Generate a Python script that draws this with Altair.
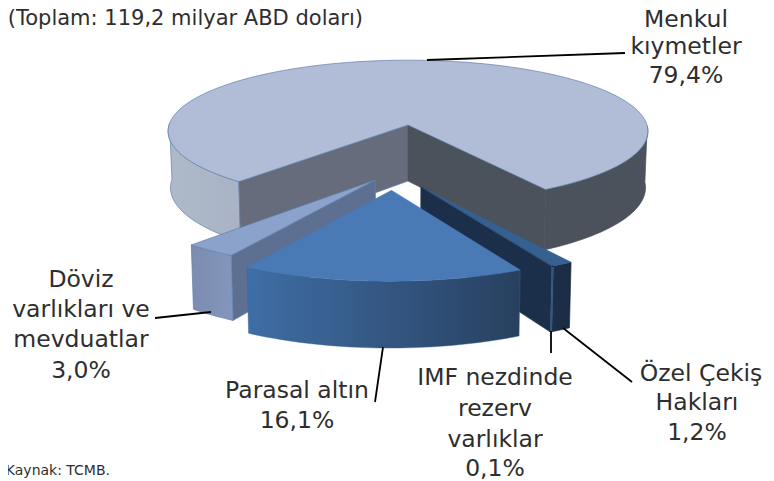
import numpy as np
import pandas as pd
import altair as alt

# --- data
categories = ["Özel Çekiş Hakları", "IMF nezdinde rezerv varlıklar", "Parasal altın", "Döviz varlıkları ve mevduatlar", "Menkul kıymetler"]
shares = [1.2, 0.1, 16.1, 3.0, 79.4]

# --- text
label_lines = [
    ("Menkul", 686, 20), ("kıymetler", 686, 47), ("79,4%", 686, 76),
    ("Döviz", 81, 280), ("varlıkları ve", 81, 310), ("mevduatlar", 81, 340), ("3,0%", 81, 371),
    ("Parasal altın", 297, 391), ("16,1%", 297, 421),
    ("IMF nezdinde", 495, 378), ("rezerv", 495, 409), ("varlıklar", 495, 440), ("0,1%", 495, 469),
    ("Özel Çekiş", 701, 374), ("Hakları", 697, 403), ("1,2%", 697, 433),
]
FONT = "DejaVu Sans"

# --- view of the tilted pie
CX, CY, R, Q, P, DEPTH = 408.0, 125.0, 239.0, 0.295, 0.0876, 56.0
START = 32.2
explode = {
    "Menkul kıymetler": (0.0, 0.0),
    "Parasal altın": (-0.064, 0.855),
    "Döviz varlıkları ve mevduatlar": (-0.128, 0.73),
    "Özel Çekiş Hakları": (0.05, 0.817),
    "IMF nezdinde rezerv varlıklar": (0.05, 0.817),
}


def proj(X, Y, low=False):
    s = 1 / (1 - P * Y)
    x = CX + R * X * s
    y = CY + R * Q * Y * s
    if low:
        x = CX + (x - CX) * 0.99
        y = y + DEPTH * s
    return x, y


def rim(name, a, b, n=40):
    ex, ey = explode[name]
    t = np.radians(np.linspace(a, b, n))
    return ex + np.sin(t), ey + np.cos(t)


spans = {}
cur = START
total = sum(shares)
for c, v in zip(categories, shares):
    spans[c] = (cur, cur - v / total * 360)
    cur = spans[c][1]


def top(name):
    a0, b0 = spans[name]
    X, Y = rim(name, a0, b0, 120)
    ex, ey = explode[name]
    X = np.r_[ex, X, ex]
    Y = np.r_[ey, Y, ey]
    return proj(X, Y)


def wall(name, a, b):
    X, Y = rim(name, a, b)
    x1, y1 = proj(X, Y)
    x2, y2 = proj(X, Y, True)
    return np.r_[x1, x2[::-1], x1[0]], np.r_[y1, y2[::-1], y1[0]]


def face(name, angle):
    ex, ey = explode[name]
    t = np.radians(angle)
    X = np.array([ex, ex + np.sin(t)])
    Y = np.array([ey, ey + np.cos(t)])
    x1, y1 = proj(X, Y)
    x2, y2 = proj(X, Y, True)
    return np.r_[x1, x2[::-1], x1[0]], np.r_[y1, y2[::-1], y1[0]]


def grad(c1, c2):
    return alt.LinearGradient(gradient="linear", x1=0, x2=1, y1=0, y2=0,
                              stops=[alt.GradientStop(color=c1, offset=0), alt.GradientStop(color=c2, offset=1)])


XS = alt.Scale(domain=[8, 766], nice=False, zero=False)
YS = alt.Scale(domain=[481, 8], nice=False, zero=False)
EDGE = "#5F80AE"


def poly(pts, fill, stroke=EDGE, sw=0.7):
    df = pd.DataFrame({"x": pts[0], "y": pts[1], "i": np.arange(len(pts[0]))})
    return alt.Chart(df).mark_line(fill=fill, stroke=stroke, strokeWidth=sw, interpolate="linear").encode(
        x=alt.X("x:Q", scale=XS, axis=None),
        y=alt.Y("y:Q", scale=YS, axis=None),
        order="i:Q",
    )


M, PA, D, O, I = categories[4], categories[2], categories[3], categories[0], categories[1]
ma, mb = spans[M]
pa, pb = spans[PA]
da, db = spans[D]
oa, ob = spans[O]
ia, ib = spans[I]

layers = [
    poly(wall(M, ma, ma - 50), grad("#AEB9CA", "#A9B3C5")),
    poly(wall(M, START + 57, START), "#4C525C", stroke="#4C525C"),
    poly(face(M, ma), "#666C7C"),
    poly(face(M, mb), "#4C525C", stroke="#4C525C"),
    poly(top(M), "#B1BDD6"),
    poly(face(D, da), "#5D7092"),
    poly(wall(D, da, db), grad("#7D8CB0", "#8396BC")),
    poly(top(D), "#8BA3CB"),
    poly(wall(O, oa, ob), grad("#1D2F49", "#1A2C44"), stroke="#1A2C44"),
    poly(top(O), "#35608F", stroke="#35608F"),
    poly(face(I, ib), "#1B2F4B", stroke="#1B2F4B"),
    poly(wall(I, ia, ib), "#2F5886", stroke="#2F5886", sw=0.4),
    poly(top(I), "#2A4F7C", stroke="#2A4F7C", sw=0.4),
    poly(wall(PA, pb, pa), grad("#3F6EA6", "#28405F"), stroke="#3A6296", sw=0.4),
    poly(top(PA), "#4A7AB5", stroke="#4A7AB5", sw=0.4),
]

leaders = [
    ([427, 625], [60, 53]),
    ([155, 211], [318, 312]),
    ([383, 375], [347, 402]),
    ([551, 551], [331, 353]),
    ([563, 632], [328, 382]),
]
for lx, ly in leaders:
    df = pd.DataFrame({"x": lx, "y": ly, "i": [0, 1]})
    layers.append(alt.Chart(df).mark_line(color="black", strokeWidth=1.8).encode(
        x=alt.X("x:Q", scale=XS, axis=None), y=alt.Y("y:Q", scale=YS, axis=None), order="i:Q"))

tdf = pd.DataFrame(label_lines, columns=["t", "x", "y"])
layers.append(alt.Chart(tdf).mark_text(font=FONT, fontSize=23.5, color="#2e2e2e", baseline="middle", align="center").encode(
    x=alt.X("x:Q", scale=XS, axis=None), y=alt.Y("y:Q", scale=YS, axis=None), text="t:N"))

side = pd.DataFrame({"t": ["(Toplam: 119,2 milyar ABD doları)", "Kaynak: TCMB."], "x": [363, 110], "y": [19, 471]})
layers.append(alt.Chart(side.iloc[[0]]).mark_text(font=FONT, fontSize=21, color="#2e2e2e", baseline="middle", align="right").encode(
    x=alt.X("x:Q", scale=XS, axis=None), y=alt.Y("y:Q", scale=YS, axis=None), text="t:N"))
layers.append(alt.Chart(side.iloc[[1]]).mark_text(font=FONT, fontSize=14, color="#2e2e2e", baseline="middle", align="right").encode(
    x=alt.X("x:Q", scale=XS, axis=None), y=alt.Y("y:Q", scale=YS, axis=None), text="t:N"))

chart = alt.layer(*layers).properties(width=758, height=473, padding=0, autosize="none",
                                      background="white").configure_view(stroke=None)
chart.save("out.html", embed_options={"renderer": "svg", "actions": False})
